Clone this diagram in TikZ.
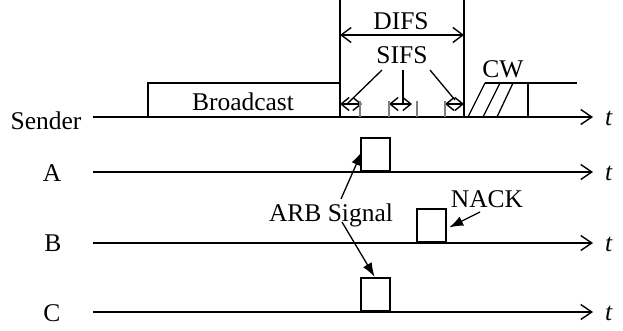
\documentclass[tikz,border=0pt]{standalone}
\usepackage{fontspec}
\setmainfont{Liberation Serif}
\usetikzlibrary{arrows.meta}
\begin{document}
\begin{tikzpicture}[x=1pt,y=-1pt,line width=2.2pt,font=\fontsize{25.5}{30}\selectfont,
  sig/.style={-{Straight Barb[length=11pt,width=15pt,line width=1.4pt]}},
  dimarr/.style={line width=1.6pt,{Straight Barb[length=10pt,width=15pt,line width=1.4pt]}-{Straight Barb[length=10pt,width=15pt,line width=1.4pt]}},
  sifsarr/.style={line width=2pt,{Straight Barb[length=8pt,width=13pt,line width=1.4pt]}-{Straight Barb[length=8pt,width=13pt,line width=1.4pt]}},
  tick/.style={line width=1.1pt,gray},
  lead/.style={line width=1.3pt},
  ptr/.style={line width=1.3pt,-{Latex[length=14pt,width=10pt]}},
  pulse/.style={draw,anchor=south west,minimum width=29pt,minimum height=33pt,inner sep=0pt}]
\useasboundingbox (0,0) rectangle (623,330);
% lanes
\node (snd) at (46,121){Sender};
\node (la) at (52,173){A};
\node (lb) at (53,243){B};
\node (lc) at (52,313){C};
\coordinate (s0) at (93,117);
\coordinate (s1) at (593,117);
\coordinate (a0) at (93,172);
\coordinate (a1) at (593,172);
\coordinate (b0) at (93,243);
\coordinate (b1) at (593,243);
\coordinate (c0) at (93,312);
\coordinate (c1) at (593,312);
\draw[sig](s0) -- (s1);
\draw[sig](a0) -- (a1);
\draw[sig](b0) -- (b1);
\draw[sig](c0) -- (c1);
\node (ts) at (609,118){\textit{t}};
\node (ta) at (609,173){\textit{t}};
\node (tb) at (609,244){\textit{t}};
\node (tc) at (609,313){\textit{t}};
% broadcast
\draw (148,117) |- (340,83);
\node (bc) at (243,102){Broadcast};
% difs
\coordinate (d0) at (340,0);
\coordinate (d1) at (340,117);
\coordinate (d2) at (464,0);
\coordinate (d3) at (464,117);
\draw(d0) -- (d1);
\draw(d2) -- (d3);
\node (difs) at (401,21){DIFS};
\coordinate (dl) at (340,35);
\coordinate (dr) at (464,35);
\draw[dimarr](dl) -- (dr);
% sifs
\node (sifs) at (402,55){SIFS};
\coordinate (p1) at (340,104);
\coordinate (q1) at (362,104);
\coordinate (p2) at (389,104);
\coordinate (q2) at (412,104);
\coordinate (p3) at (445,104);
\coordinate (q3) at (464,104);
\draw[sifsarr](p1) -- (q1);
\draw[sifsarr](p2) -- (q2);
\draw[sifsarr](p3) -- (q3);
\draw[tick](360,101) -- (360,117);
\draw[tick](389,101) -- (389,117);
\draw[tick](417,101) -- (417,117);
\draw[tick](445,101) -- (445,117);
\draw[lead]([xshift=-20pt,yshift=-2pt]sifs.south) -- (347,104);
\draw[lead]([xshift=1pt,yshift=-2pt]sifs.south) -- (403,104);
\draw[lead]([xshift=28pt,yshift=-2pt]sifs.south) -- (455,100);
% contention window
\node (cw) at (503,69){CW};
\draw (485,83) -- (577,83);
\draw (528,83) -- (528,117);
\draw[lead](468,117) -- (485,83);
\draw[lead](483,117) -- (500,83);
\draw[lead](497,117) -- (513,83);
% pulses
\node[pulse] (pa) at (360,172){};
\node[pulse] (pb) at (416,243){};
\node[pulse] (pc) at (360,312){};
\node (arb) at (331,215){ARB Signal};
\node (nack) at (487,199){NACK};
\draw[ptr]([xshift=10pt]arb.north) -- ([xshift=2pt,yshift=3pt]pa.west);
\draw[ptr]([xshift=11pt,yshift=9pt]arb.south) -- ([xshift=-1pt]pc.north);
\draw[ptr]([xshift=-7pt]nack.south) -- ([xshift=2pt,yshift=-2pt]pb.east);
\end{tikzpicture}
\end{document}
